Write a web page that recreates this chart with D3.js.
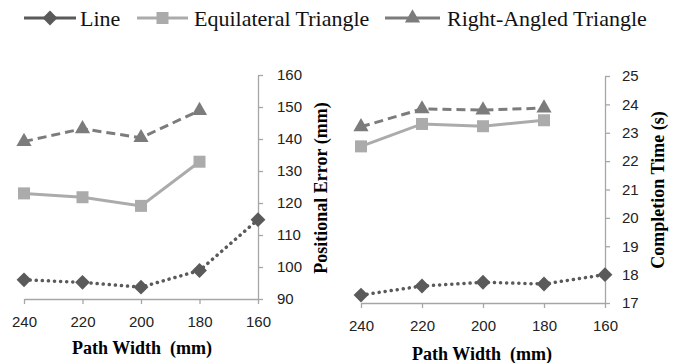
<!DOCTYPE html>
<html>
<head>
<meta charset="utf-8">
<script src="https://cdn.jsdelivr.net/npm/d3@7"></script>
<style>
  body { margin: 0; background: white; }
  .tick text { font-family: "Liberation Sans", Arial, sans-serif; font-size: 15px; fill: #222; }
  .axis-title { font-family: "Liberation Serif", "Times New Roman", serif; font-weight: bold; font-size: 18px; fill: #000; }
  .legend text { font-family: "Liberation Serif", "Times New Roman", serif; font-size: 22px; fill: #111; }
</style>
</head>
<body>
<div id="container"></div>
<script>
/* CONSTANTS AND DATA */
const width = 687, height = 363;

const widths = [240, 220, 200, 180, 160];
const seriesNames = ["Line", "Equilateral Triangle", "Right-Angled Triangle"];

// positional error (mm)
const errLine = [96, 95.2, 93.7, 98.9, 114.8];
const errEqui = [123, 121.8, 119.1, 132.9];
const errRight = [139.2, 143.2, 140.4, 148.9];
const errTicks = [90, 100, 110, 120, 130, 140, 150, 160];

// completion time (s)
const timeLine = [17.28, 17.6, 17.73, 17.67, 18.0];
const timeEqui = [22.52, 23.31, 23.23, 23.44];
const timeRight = [23.21, 23.84, 23.8, 23.87];
const timeTicks = [17, 18, 19, 20, 21, 22, 23, 24, 25];

const colors = ["#5a5a5a", "#ababab", "#7c7c7c"];
const dashes = ["0.1 6", null, "9 5"];
const symbols = [
  d3.symbol().type(d3.symbolSquare).size(110)(),   // rotated later -> diamond
  d3.symbol().type(d3.symbolSquare).size(144)(),
  d3.symbol().type(d3.symbolTriangle).size(100)()
];
const rotations = [45, 0, 0];

const svg = d3.select("#container")
  .append("svg")
  .attr("width", width)
  .attr("height", height)
  .style("background-color", "white");

/* LEGEND */
const legendItems = [
  { x1: 24, x2: 76, tx: 80 },
  { x1: 137, x2: 188, tx: 194 },
  { x1: 385, x2: 440, tx: 447 }
];
const legend = svg.append("g").attr("class", "legend");
legendItems.forEach((it, i) => {
  legend.append("line")
    .attr("x1", it.x1).attr("x2", it.x2)
    .attr("y1", 18).attr("y2", 18)
    .attr("stroke", colors[i]).attr("stroke-width", 3);
  legend.append("path")
    .attr("d", symbols[i])
    .attr("transform", `translate(${(it.x1 + it.x2) / 2},18) rotate(${rotations[i]})`)
    .attr("fill", colors[i]);
  legend.append("text")
    .attr("x", it.tx).attr("y", 26)
    .text(seriesNames[i]);
});

/* PANEL */
function panel(opts) {
  const xScale = d3.scalePoint()
    .domain(widths)
    .range(opts.xRange);
  const yScale = d3.scaleLinear()
    .domain(d3.extent(opts.ticks))
    .range(opts.yRange);

  const xAxis = d3.axisBottom(xScale).tickSize(5).tickSizeOuter(0).tickPadding(12);
  const gx = svg.append("g")
    .attr("transform", `translate(0, ${opts.yRange[0]})`)
    .call(xAxis);

  const yAxis = d3.axisRight(yScale).tickValues(opts.ticks).tickSize(5).tickSizeOuter(0).tickPadding(opts.pad);
  const gy = svg.append("g")
    .attr("transform", `translate(${opts.xRange[1]}, 0)`)
    .call(yAxis);

  [gx, gy].forEach(g => {
    g.select(".domain").attr("stroke", "#a6a6a6").attr("stroke-width", 1.3);
    g.selectAll(".tick line").attr("stroke", "#a6a6a6").attr("stroke-width", 1.3);
  });

  const series = [opts.line, opts.equi, opts.right];
  series.forEach((vals, i) => {
    const pts = vals.map((v, j) => [xScale(widths[j]), yScale(v)]);
    svg.append("path")
      .attr("d", d3.line()(pts))
      .attr("fill", "none")
      .attr("stroke", colors[i])
      .attr("stroke-width", i === 0 ? 3.5 : 3)
      .attr("stroke-linecap", i === 0 ? "round" : "butt")
      .attr("stroke-dasharray", dashes[i]);
    svg.selectAll(null)
      .data(pts)
      .join("path")
      .attr("d", symbols[i])
      .attr("transform", d => `translate(${d[0]},${d[1]}) rotate(${rotations[i]})`)
      .attr("fill", colors[i]);
  });

  svg.append("text")
    .attr("class", "axis-title")
    .attr("text-anchor", "middle")
    .attr("x", opts.xTitle[0]).attr("y", opts.xTitle[1])
    .text("Path Width  (mm)")
    .style("white-space", "pre");

  svg.append("text")
    .attr("class", "axis-title")
    .attr("text-anchor", "middle")
    .attr("transform", `translate(${opts.yTitle[0]},${opts.yTitle[1]}) rotate(-90)`)
    .attr("dy", "0.35em")
    .text(opts.yLabel);
}

panel({
  xRange: [24, 258], yRange: [299, 75], ticks: errTicks, pad: 14,
  line: errLine, equi: errEqui, right: errRight,
  xTitle: [142, 354], yTitle: [321, 188], yLabel: "Positional Error (mm)"
});

panel({
  xRange: [361, 605], yRange: [303, 76], ticks: timeTicks, pad: 12,
  line: timeLine, equi: timeEqui, right: timeRight,
  xTitle: [482, 360], yTitle: [658, 190], yLabel: "Completion Time (s)"
});
</script>
</body>
</html>
